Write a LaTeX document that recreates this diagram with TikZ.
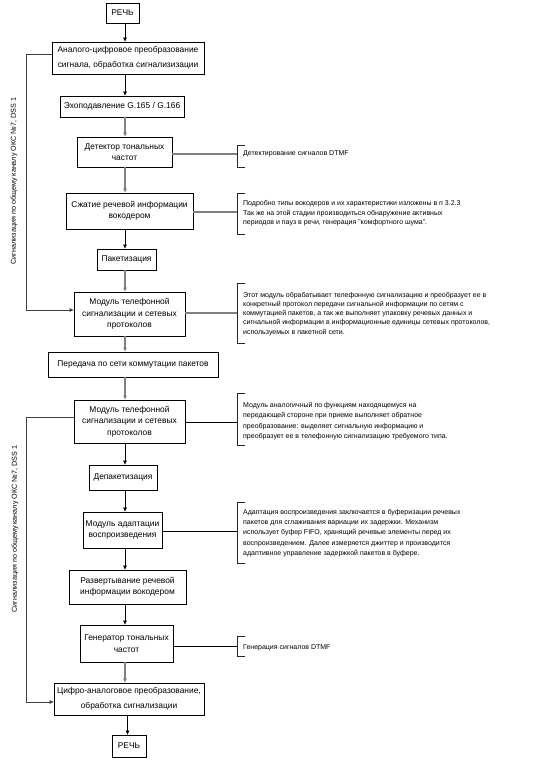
\documentclass[tikz,border=0pt]{standalone}
\usepackage{fontspec}
\setmainfont{Liberation Sans}
\usetikzlibrary{arrows.meta}
\begin{document}
\begin{tikzpicture}[x=1pt,y=-1pt,
 box/.style={draw=black, line width=0.8pt, inner sep=0pt, align=center, font=\fontsize{8.4}{11.3}\selectfont},
 widebox/.style={box, font=\fontsize{8.4}{15.5}\selectfont},
 note/.style={anchor=base west, inner sep=0pt, align=left, font=\fontsize{7}{9}\selectfont},
 blk/.style={draw=black, line width=0.7pt},
 gry/.style={draw=black!50, line width=1.3pt},
 tip/.style={-{Triangle[length=4pt,width=3.5pt]}},
 brk/.style={draw=black!85, line width=0.7pt},
 sig/.style={rotate=90, inner sep=0pt, font=\fontsize{7.2}{9}\selectfont},
 looppath/.style={draw=black!75, line width=0.8pt}
]
\useasboundingbox (0,0) rectangle (558,767);
\fill[white] (0,0) rectangle (558,767);

% main boxes
\node[box, minimum width=33, minimum height=20] (r1) at (122.5,13) {РЕЧЬ};
\node[widebox, minimum width=152, minimum height=32] (adc) at (128,58) {Аналого-цифровое преобразование\\сигнала, обработка сигнализизации};
\node[box, minimum width=124, minimum height=21] (echo) at (122,106.5) {Эхоподавление G.165 / G.166};
\node[box, minimum width=95, minimum height=30] (det) at (124.5,152) {Детектор тональных\\частот};
\node[box, minimum width=127, minimum height=36] (comp) at (129.5,211) {Сжатие речевой информации\\вокодером};
\node[box, minimum width=59, minimum height=21] (pack) at (126.5,259.5) {Пакетизация};
\node[box, minimum width=111, minimum height=44] (mod1) at (129.5,314) {Модуль телефонной\\сигнализации и сетевых\\протоколов};
\node[box, minimum width=170, minimum height=25] (trans) at (133,364.5) {Передача по сети коммутации пакетов};
\node[box, minimum width=111, minimum height=43] (mod2) at (129.5,421.5) {Модуль телефонной\\сигнализации и сетевых\\протоколов};
\node[box, minimum width=68, minimum height=25] (depack) at (123,477.5) {Депакетизация};
\node[box, minimum width=79, minimum height=36] (adapt) at (122.5,530) {Модуль адаптации\\воспроизведения};
\node[box, minimum width=117, minimum height=34] (unpack) at (127.5,587) {Развертывание речевой\\информации вокодером};
\node[box, minimum width=93, minimum height=37] (gen) at (126.5,643.5) {Генератор тональных\\частот};
\node[widebox, minimum width=150, minimum height=32] (dac) at (129,699) {Цифро-аналоговое преобразование,\\обработка сигнализации};
\node[box, minimum width=34, minimum height=22] (r2) at (129,746) {РЕЧЬ};

% main flow
\coordinate (ax) at (125,0);
\draw[blk,tip] (r1.south -| ax) -- (adc.north -| ax);
\draw[blk,tip] (adc.south -| ax) -- (echo.north -| ax);
\draw[gry,tip] (echo.south -| ax) -- (det.north -| ax);
\draw[gry,tip] (det.south -| ax) -- (comp.north -| ax);
\draw[blk,tip] (comp.south -| ax) -- (pack.north -| ax);
\draw[gry,tip] (pack.south -| ax) -- (mod1.north -| ax);
\draw[gry,tip] (mod1.south -| ax) -- (trans.north -| ax);
\draw[gry,tip] (trans.south -| ax) -- (mod2.north -| ax);
\draw[blk,tip] (mod2.south -| ax) -- (depack.north -| ax);
\draw[blk,tip] (depack.south -| ax) -- (adapt.north -| ax);
\draw[blk,tip] (adapt.south -| ax) -- (unpack.north -| ax);
\draw[blk,tip] (unpack.south -| ax) -- (gen.north -| ax);
\draw[gry,tip] (gen.south -| ax) -- (dac.north -| ax);
\coordinate (ax2) at (127.5,0);
\draw[blk,tip] (dac.south -| ax2) -- (r2.north -| ax2);

% signalling loops
\coordinate (lx) at (26,0);
\coordinate (a1) at ([yshift=4pt]adc.west);
\coordinate (a2) at ([yshift=4pt]mod1.west);
\draw[looppath,tip] (a1) -- (a1 -| lx) -- (a2 -| lx) -- (a2);
\coordinate (b1) at ([yshift=4.5pt]mod2.west);
\coordinate (b2) at ([yshift=-3pt]dac.west);
\draw[looppath,tip] (b1) -- (b1 -| lx) -- (b2 -| lx) -- (b2);
\node[sig] (s1) at (14,181) {Сигнализация по общему каналу ОКС №7, DSS 1};
\node[sig] (s2) at (15,529) {Сигнализация по общему каналу ОКС №7, DSS 1};

% notes with brackets (base anchor = baseline of last line)
\coordinate (k1) at (237,154);
\draw[brk] (245,145) -- (237,145) -- (237,167) -- (245,167);
\draw[gry] (det.east |- k1) -- (k1);
\node[note] (n1) at (243,156) {Детектирование сигналов DTMF};

\coordinate (k2) at (237,212);
\draw[brk] (245,193) -- (237,193) -- (237,234) -- (245,234);
\draw[gry] (comp.east |- k2) -- (k2);
\node[note, font=\fontsize{7}{9}\selectfont] (n2) at (243,224) {Подробно типы вокодеров и их характеристики изложены в п 3.2.3\\Так же на этой стадии производиться обнаружение активных\\периодов и пауз в речи, генерация "комфортного шума".};

\coordinate (k3) at (237,313);
\draw[brk] (245,283) -- (237,283) -- (237,343) -- (245,343);
\draw[gry] (mod1.east |- k3) -- (k3);
\node[note, font=\fontsize{7}{9.3}\selectfont] (n3) at (243,334.2) {Этот модуль обрабатывает телефонную сигнализацию и преобразует ее в\\конкретный протокол передачи сигнальной информации по сетям с\\коммутацией пакетов, а так же выполняет упаковку речевых данных и\\сигнальной информации в информационные единицы сетевых протоколов,\\используемых в пакетной сети.};

\coordinate (k4) at (237,422);
\draw[brk] (245,393) -- (237,393) -- (237,445) -- (245,445);
\draw[blk] (mod2.east |- k4) -- (k4);
\node[note, font=\fontsize{7}{10.5}\selectfont] (n4) at (243,438.5) {Модуль аналогичный по функциям находящемуся на\\передающей стороне при приеме выполняет обратное\\преобразование: выделяет сигнальную информацию и\\преобразует ее в телефонную сигнализацию требуемого типа.};

\coordinate (k5) at (237,531);
\draw[brk] (245,502) -- (237,502) -- (237,563) -- (245,563);
\draw[blk] (adapt.east |- k5) -- (k5);
\node[note, font=\fontsize{7}{10.4}\selectfont] (n5) at (243,555.6) {Адаптация воспроизведения заключается в буферизации речевых\\пакетов для сглаживания вариации их задержки. Механизм\\использует буфер FIFO, хранящий речевые элементы перед их\\воспроизведением. Далее измеряется джиттер и производится\\адаптивное управление задержкой пакетов в буфере.};

\coordinate (k6) at (237,646);
\draw[brk] (245,636) -- (237,636) -- (237,656) -- (245,656);
\draw[blk] (gen.east |- k6) -- (k6);
\node[note] (n6) at (243,649) {Генерация сигналов DTMF};
\end{tikzpicture}
\end{document}
